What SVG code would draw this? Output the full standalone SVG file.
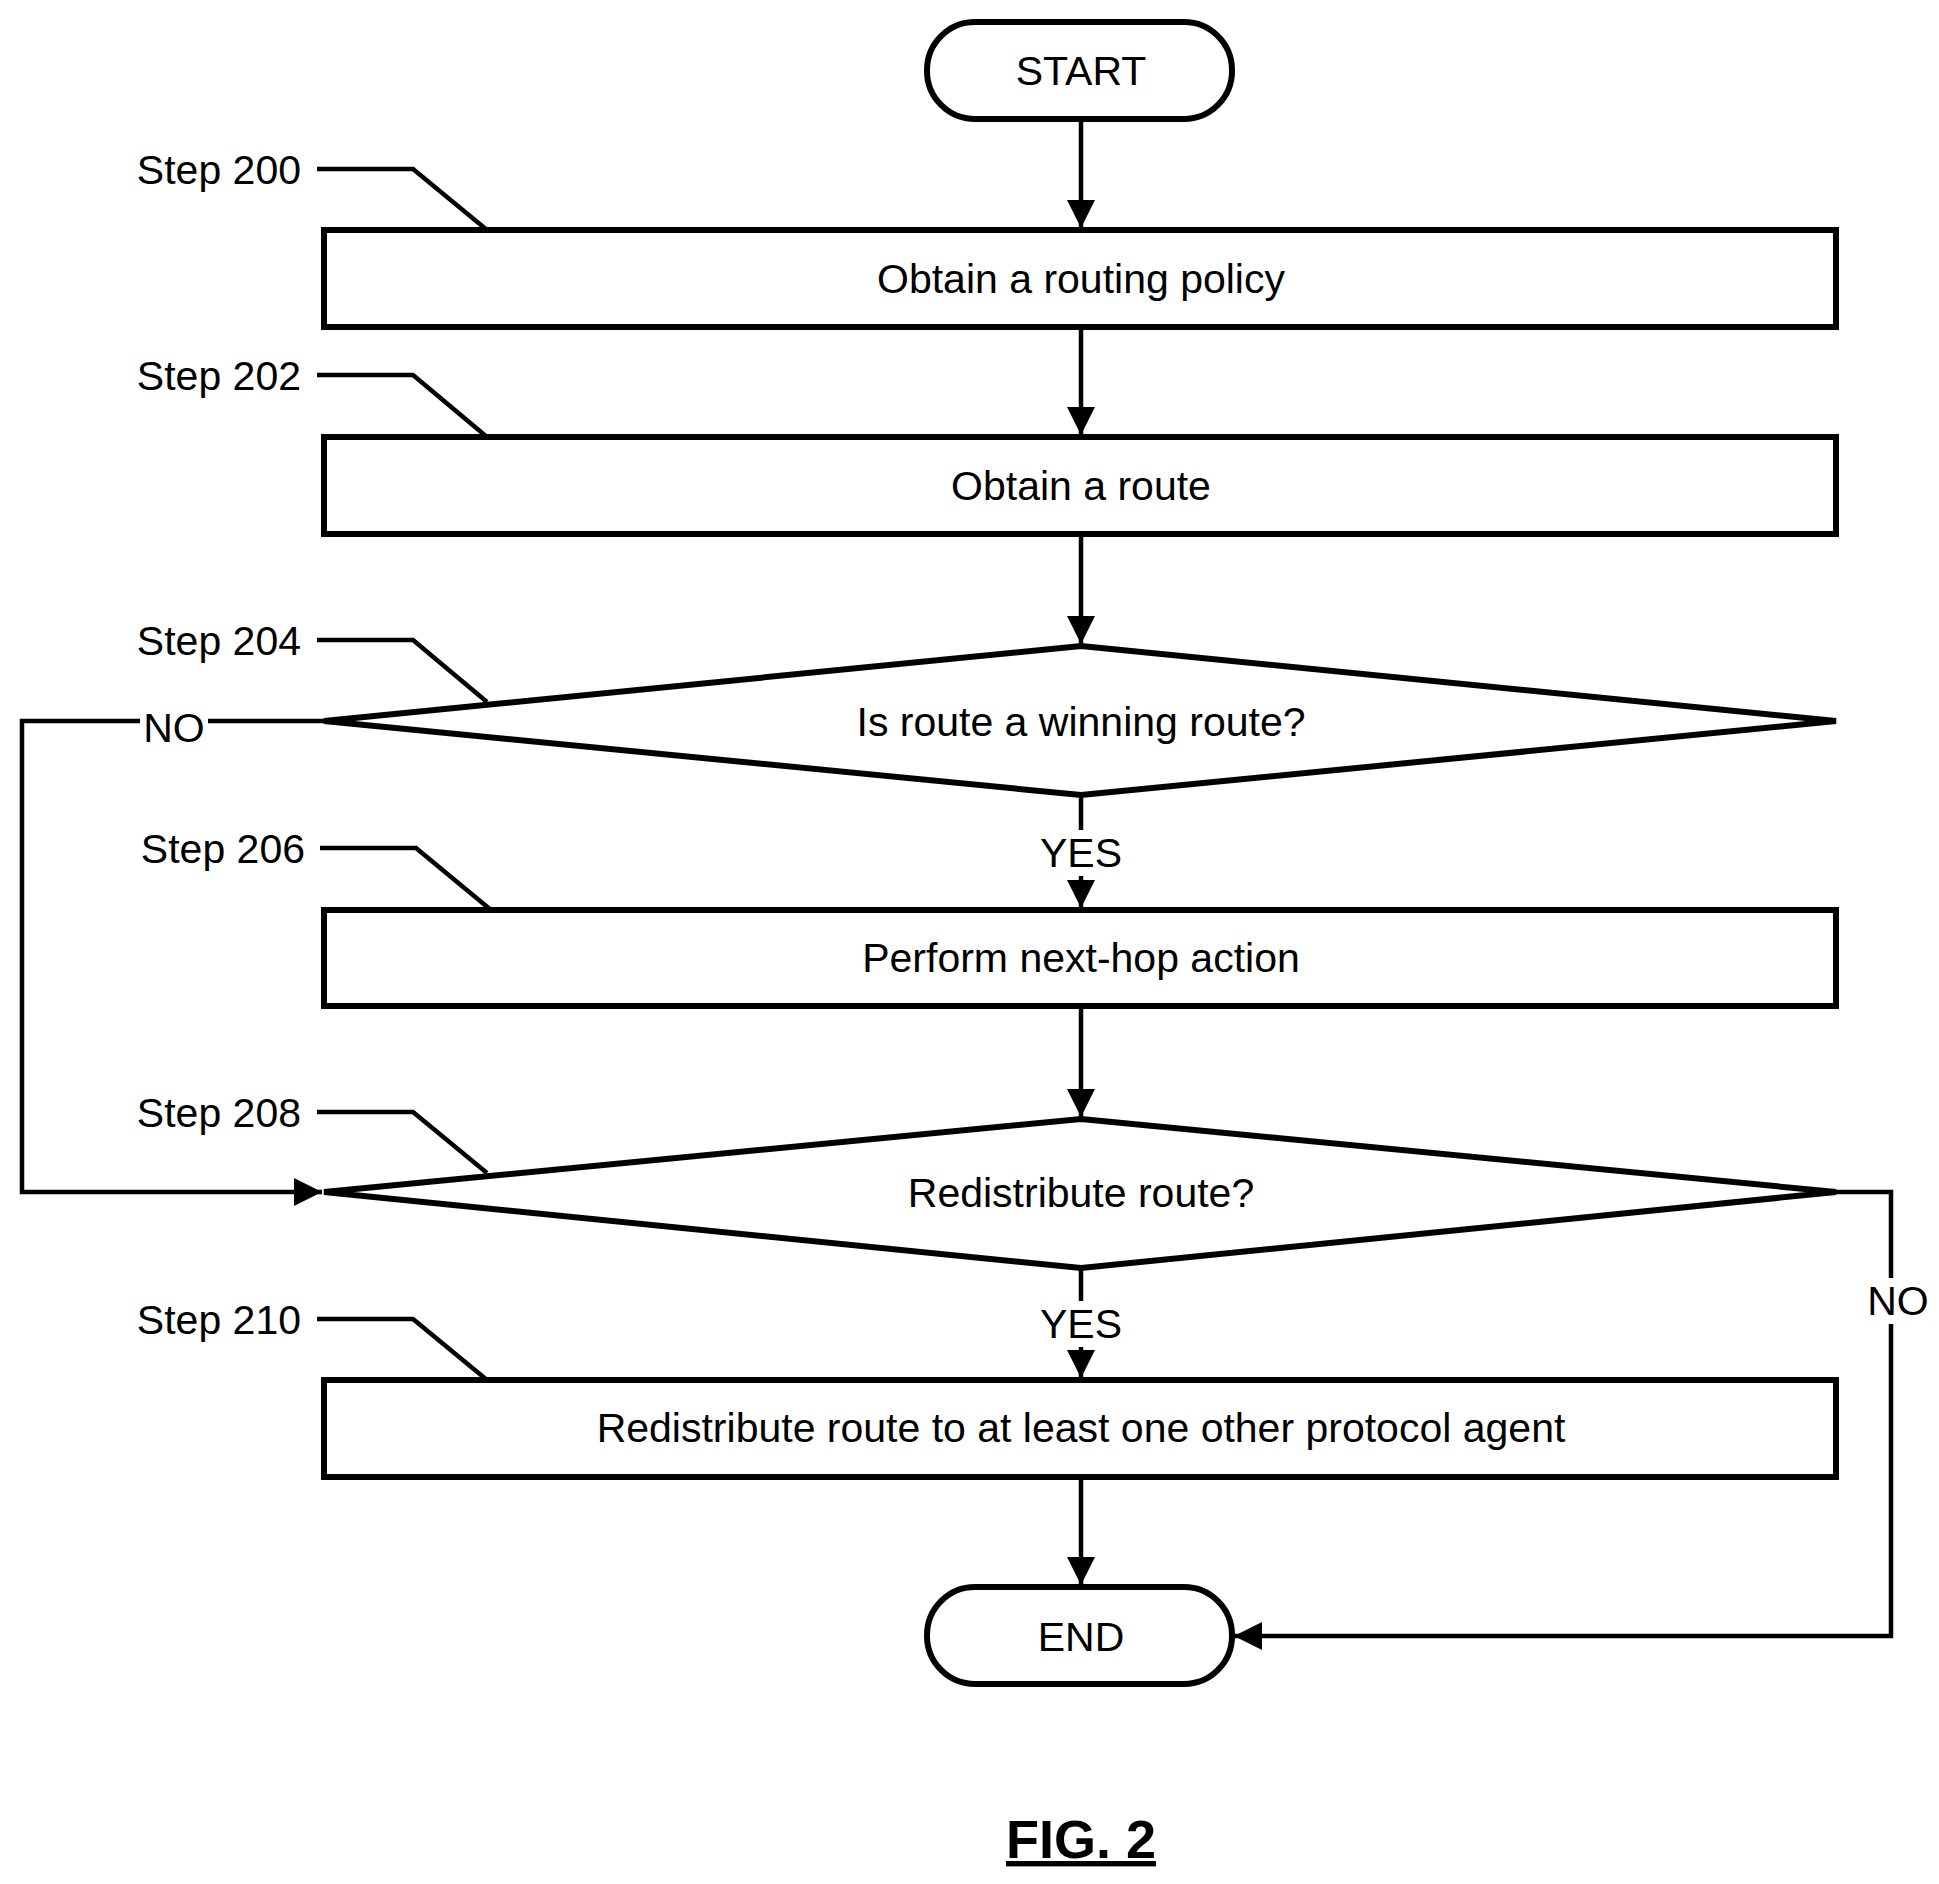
<svg xmlns="http://www.w3.org/2000/svg" width="1939" height="1884" viewBox="0 0 1939 1884">
<style>
text{font-family:"Liberation Sans",Arial,sans-serif;font-size:41px;fill:#000}
.c{text-anchor:middle}
.r{text-anchor:end}
.s{fill:#fff;stroke:#000;stroke-width:6}
.l{fill:none;stroke:#000;stroke-width:4.5}
</style>
<defs>
<marker id="b" markerWidth="28" markerHeight="28" refX="28" refY="14" orient="auto" markerUnits="userSpaceOnUse" viewBox="0 0 28 28"><path d="M0,0L28,14L0,28z"/></marker></defs>
<rect width="1939" height="1884" fill="#fff"/>
<g id="connectors">
<line class="l" x1="1081" y1="119" x2="1081" y2="228" marker-end="url(#b)"/>
<line class="l" x1="1081" y1="327" x2="1081" y2="435" marker-end="url(#b)"/>
<line class="l" x1="1081" y1="534" x2="1081" y2="644" marker-end="url(#b)"/>
<line class="l" x1="1081" y1="795" x2="1081" y2="908" marker-end="url(#b)"/>
<line class="l" x1="1081" y1="1006" x2="1081" y2="1117" marker-end="url(#b)"/>
<line class="l" x1="1081" y1="1268" x2="1081" y2="1378" marker-end="url(#b)"/>
<line class="l" x1="1081" y1="1477" x2="1081" y2="1585" marker-end="url(#b)"/>
<polyline class="l" points="324,721 22,721 22,1192 322,1192" marker-end="url(#b)"/>
<polyline class="l" points="1836,1192 1891,1192 1891,1636 1234,1636" marker-end="url(#b)"/>
<rect x="1060" y="830" width="42" height="46" fill="#fff"/>
<rect x="1060" y="1301" width="42" height="46" fill="#fff"/>
<rect x="140" y="700" width="68" height="46" fill="#fff"/>
<rect x="1866" y="1278" width="50" height="46" fill="#fff"/>
<text class="c" x="1081" y="867">YES</text>
<text class="c" x="1081" y="1338">YES</text>
<text class="c" x="174" y="742">NO</text>
<text class="c" x="1898" y="1315">NO</text>
</g>
<g id="start"><rect class="s" x="927" y="22" width="305" height="97" rx="48"/><text class="c" x="1081" y="85">START</text></g>
<g id="s200"><rect class="s" x="324" y="230" width="1512" height="97"/><text class="c" x="1081" y="293">Obtain a routing policy</text>
<text class="r" x="301" y="184">Step 200</text><polyline class="l" points="317,169 413,169 487,230"/></g>
<g id="s202"><rect class="s" x="324" y="437" width="1512" height="97"/><text class="c" x="1081" y="500">Obtain a route</text>
<text class="r" x="301" y="390">Step 202</text><polyline class="l" points="317,375 413,375 487,437"/></g>
<g id="s204"><polygon class="s" points="1081,646 1836,721 1081,795 324,721"/><text class="c" x="1081" y="736">Is route a winning route?</text>
<text class="r" x="301" y="655">Step 204</text><polyline class="l" points="317,640 413,640 487,702"/></g>
<g id="s206"><rect class="s" x="324" y="910" width="1512" height="96"/><text class="c" x="1081" y="972">Perform next-hop action</text>
<text class="r" x="305" y="863">Step 206</text><polyline class="l" points="320,848 416,848 491,910"/></g>
<g id="s208"><polygon class="s" points="1081,1119 1836,1192 1081,1268 324,1192"/><text class="c" x="1081" y="1207">Redistribute route?</text>
<text class="r" x="301" y="1127">Step 208</text><polyline class="l" points="317,1112 413,1112 487,1173"/></g>
<g id="s210"><rect class="s" x="324" y="1380" width="1512" height="97"/><text class="c" x="1081" y="1442">Redistribute route to at least one other protocol agent</text>
<text class="r" x="301" y="1334">Step 210</text><polyline class="l" points="317,1319 413,1319 487,1380"/></g>
<g id="end"><rect class="s" x="927" y="1587" width="305" height="97" rx="48"/><text class="c" x="1081" y="1651">END</text></g>
<text class="c" x="1081" y="1858" style="font-size:54px;font-weight:bold;text-decoration:underline">FIG. 2</text>
</svg>
